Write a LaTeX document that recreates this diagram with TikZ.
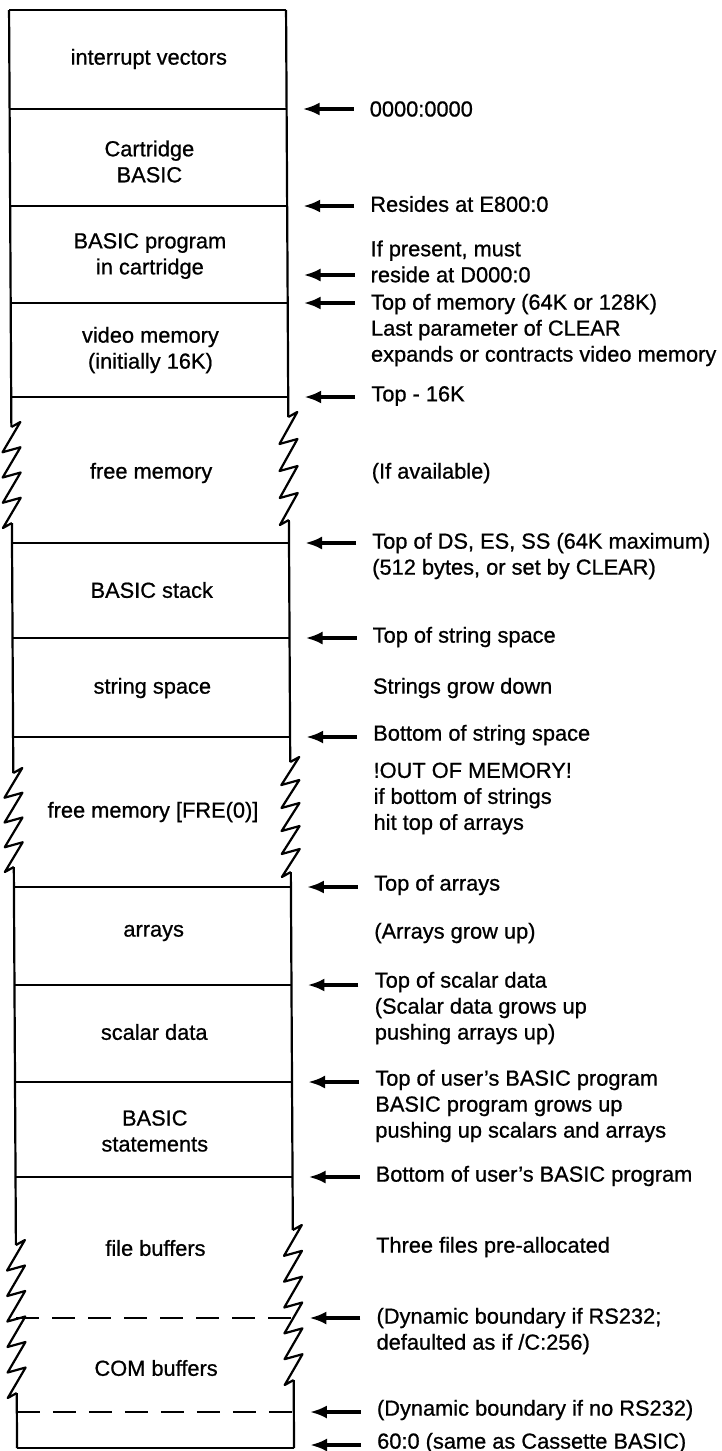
\documentclass[tikz,border=0pt]{standalone}
\usepackage{fontspec}
\setmainfont{Liberation Sans}[FakeBold=0.8]
\usetikzlibrary{arrows.meta}

% broken edge of a region of unknown size: x, top, bottom, teeth
\newcommand{\zigzag}[4]{%
  \pgfmathsetmacro{\zd}{(#3-#2+(#4+1)*5)/#4}
  \draw[wall] (#1,#2) -- ++(9,-5)
    foreach \k in {2,...,#4}{ -- ++(-18,\zd) -- ++(18,-5) }
    -- ++(-18,\zd) -- (#1,#3);
}

\begin{document}
\begin{tikzpicture}[
    x=1pt, y=-1pt,
    font=\fontsize{21.8}{26}\selectfont,
    wall/.style={line width=2.2pt, line join=round},
    bound/.style={line width=2pt},
    softbound/.style={line width=2pt, dash pattern=on 23pt off 13pt},
    region/.style={align=center, inner sep=0pt},
    note/.style={align=left, anchor=west, inner sep=0pt},
    ptr/.style={-{Latex[length=17pt,width=13pt]}, line width=3.5pt}
]
    \fill[white] (0,0) rectangle (722,1451);
    \useasboundingbox (0,0) rectangle (722,1451);
\begin{scope}[xslant=-0.00556]
    % Memory column
    \foreach \y in {10,109,206,303,397,543,638,737,887,985,1082,1177,1448}
        \draw[bound] (9,\y) -- (286,\y);
    \foreach \y in {1318,1412}
        \draw[softbound] (9,\y) -- (286,\y);

    \draw[wall] (9,10) -- (9,427);
    \zigzag{9}{427}{523}{4}
    \draw[wall] (9,523) -- (9,773);
    \zigzag{9}{773}{867}{4}
    \draw[wall] (9,867) -- (9,1245);
    \zigzag{9}{1245}{1393}{6}
    \draw[wall] (9,1393) -- (9,1448);

    \draw[wall] (286,10) -- (286,417);
    \zigzag{286}{417}{520}{4}
    \draw[wall] (286,520) -- (286,762);
    \zigzag{286}{762}{872}{5}
    \draw[wall] (286,872) -- (286,1230);
    \zigzag{286}{1230}{1380}{6}
    \draw[wall] (286,1380) -- (286,1448);

    % Regions
    \node[region] (ivec) at (148.5,59) {interrupt vectors};
    \node[region] (cart) at (148.5,161.5) {Cartridge\\BASIC};
    \node[region] (cartprog) at (148.5,256) {BASIC program\\in cartridge};
    \node[region] (video) at (148.5,350) {video memory\\(initially 16K)};
    \node[region] (freetop) at (148.5,473) {free memory};
    \node[region] (stack) at (148.5,590) {BASIC stack};
    \node[region] (strings) at (148.5,688) {string space};
    \node[region] (fre) at (148.5,812) {free memory [FRE(0)]};
    \node[region] (arrays) at (148.5,933) {arrays};
    \node[region] (scalars) at (148.5,1032) {scalar data};
    \node[region] (stmts) at (148.5,1131) {BASIC\\statements};
    \node[region] (files) at (148.5,1248) {file buffers};
    \node[region] (com) at (148.5,1368) {COM buffers};

    % Notes
    \node[note] (n1) at (369,109) {0000:0000};
    \node[note] (n2) at (369,204) {Resides at E800:0};
    \node[note] (n3) at (369,261.5) {If present, must\\reside at D000:0};
    \node[note] (n4) at (369,330) {Top of memory (64K or 128K)\\Last parameter of CLEAR\\expands or contracts video memory};
    \node[note] (n5) at (369,396) {Top - 16K};
    \node[note] (n6) at (369,473) {(If available)};
    \node[note] (n7) at (369,556) {Top of DS, ES, SS (64K maximum)\\(512 bytes, or set by CLEAR)};
    \node[note] (n8) at (369,637) {Top of string space};
    \node[note] (n9) at (369,688) {Strings grow down};
    \node[note] (n10) at (369,735) {Bottom of string space};
    \node[note] (n11) at (369,798.5) {!OUT OF MEMORY!\\if bottom of strings\\hit top of arrays};
    \node[note] (n12) at (369,885) {Top of arrays};
    \node[note] (n13) at (369,933) {(Arrays grow up)};
    \node[note] (n14) at (369,1008) {Top of scalar data\\(Scalar data grows up\\pushing arrays up)};
    \node[note] (n15) at (369,1106) {Top of user’s BASIC program\\BASIC program grows up\\pushing up scalars and arrays};
    \node[note] (n16) at (369,1176) {Bottom of user’s BASIC program};
    \node[note] (n17) at (369,1247) {Three files pre-allocated};
    \node[note] (n18) at (369,1331) {(Dynamic boundary if RS232;\\defaulted as if /C:256)};
    \node[note] (n19) at (369,1410) {(Dynamic boundary if no RS232)};
    \node[note] (n20) at (369,1443) {60:0 (same as Cassette BASIC)};

    % Pointers
    \foreach \y [count=\i] in {109,206,275,303,397,543,638,737,887,985,1082,1177,1318,1412,1445} {
        \coordinate (tail\i) at (353,\y);
        \coordinate (head\i) at (302,\y);
        \draw[ptr] (tail\i) -- (head\i);
    }
\end{scope}
\end{tikzpicture}
\end{document}
